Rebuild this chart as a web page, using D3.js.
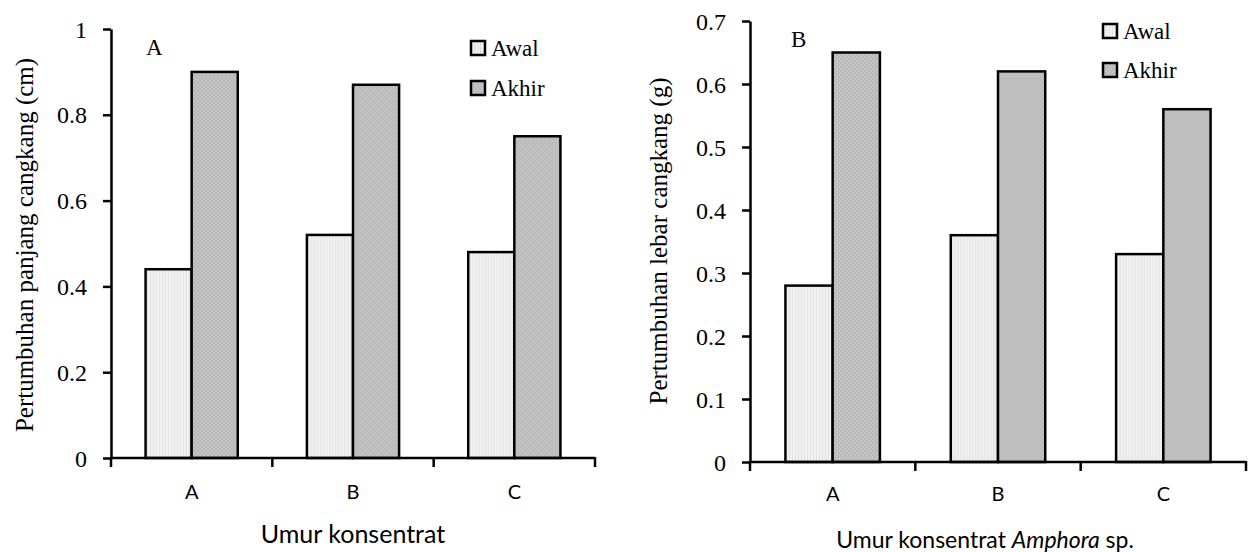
<!DOCTYPE html>
<html>
<head>
<meta charset="utf-8">
<script src="https://cdn.jsdelivr.net/npm/d3@7"></script>
<style>
  body { margin: 0; background: #fff; }
  svg { display: block; }
</style>
</head>
<body>
<div id="chart"></div>
<script>
// data
const categories = ["A", "B", "C"];
const seriesNames = ["Awal", "Akhir"];

const panjangAwal = [0.44, 0.52, 0.48];
const panjangAkhir = [0.90, 0.87, 0.75];
const panjangTicks = [0, 0.2, 0.4, 0.6, 0.8, 1];

const lebarAwal = [0.28, 0.36, 0.33];
const lebarAkhir = [0.65, 0.62, 0.56];
const lebarTicks = [0, 0.1, 0.2, 0.3, 0.4, 0.5, 0.6, 0.7];

const W = 1249, H = 552;
const serif = "'Liberation Serif', serif";
const sans = "Lato, 'Open Sans', sans-serif";

const svg = d3.select("#chart")
  .append("svg")
  .attr("width", W)
  .attr("height", H);

// textures for the two fills
const defs = svg.append("defs");
const pAwal = defs.append("pattern")
  .attr("id", "fillAwal")
  .attr("width", 3).attr("height", 3)
  .attr("patternUnits", "userSpaceOnUse");
pAwal.append("rect").attr("width", 3).attr("height", 3).attr("fill", "#f1f1f1");
pAwal.append("rect").attr("width", 1).attr("height", 3).attr("fill", "#e2e2e2");

const pAkhir = defs.append("pattern")
  .attr("id", "fillAkhir")
  .attr("width", 4).attr("height", 4)
  .attr("patternUnits", "userSpaceOnUse");
pAkhir.append("rect").attr("width", 4).attr("height", 4).attr("fill", "#c4c4c4");
pAkhir.append("rect").attr("width", 2).attr("height", 2).attr("fill", "#b8b8b8");
pAkhir.append("rect").attr("x", 2).attr("y", 2).attr("width", 2).attr("height", 2).attr("fill", "#b8b8b8");

const fills = { Awal: "url(#fillAwal)", Akhir: "url(#fillAkhir)" };

function drawPanel(p) {
  const g = svg.append("g");

  const y = d3.scaleLinear().domain([0, p.max]).range([p.bottom, p.top]);
  const x0 = d3.scaleBand().domain(categories).range([p.left, p.right]).padding(0);
  const x1 = d3.scaleBand().domain(seriesNames)
    .range([0, x0.bandwidth()])
    .paddingInner(0)
    .paddingOuter(0.75);

  const rows = categories.map((c, i) => ({ cat: c, Awal: p.awal[i], Akhir: p.akhir[i] }));

  // bars
  g.selectAll(".grp")
    .data(rows)
    .join("g")
    .attr("transform", (d) => `translate(${x0(d.cat)},0)`)
    .selectAll("rect")
    .data((d) => seriesNames.map((s) => ({ s, v: d[s] })))
    .join("rect")
    .attr("x", (d) => x1(d.s))
    .attr("y", (d) => y(d.v))
    .attr("width", x1.bandwidth())
    .attr("height", (d) => y(0) - y(d.v))
    .attr("fill", (d) => fills[d.s])
    .attr("stroke", "#000")
    .attr("stroke-width", 2.5);

  // y axis
  const yAxis = d3.axisLeft(y)
    .tickValues(p.ticks)
    .tickFormat((d) => (d === 0 ? "0" : d3.format("~g")(d)))
    .tickSize(8)
    .tickSizeOuter(0)
    .tickPadding(16);
  g.append("g")
    .attr("transform", `translate(${p.left},0)`)
    .call(yAxis)
    .call((a) => a.selectAll("path, line").attr("stroke", "#000").attr("stroke-width", 2.5))
    .call((a) => a.selectAll("text")
      .attr("fill", "#000")
      .attr("dy", "0.34em")
      .style("font-family", serif)
      .style("font-size", "24px"));

  // x axis with ticks at category boundaries
  const xAxis = g.append("g").attr("transform", `translate(0,${p.bottom})`);
  xAxis.append("line")
    .attr("x1", p.left).attr("x2", p.right)
    .attr("stroke", "#000").attr("stroke-width", 2.5);
  const edges = categories.map((c) => x0(c)).concat([x0(categories[categories.length - 1]) + x0.bandwidth()]);
  xAxis.selectAll(".xt")
    .data(edges)
    .join("line")
    .attr("x1", (d) => d).attr("x2", (d) => d)
    .attr("y1", -1).attr("y2", 9)
    .attr("stroke", "#000").attr("stroke-width", 2.5);
  xAxis.selectAll(".xl")
    .data(categories)
    .join("text")
    .attr("x", (d) => x0(d) + x0.bandwidth() / 2)
    .attr("y", p.xLabelDy)
    .attr("text-anchor", "middle")
    .style("font-family", sans)
    .style("font-size", "20px")
    .text((d) => d);

  // axis titles
  g.append("text")
    .attr("transform", `translate(${p.yTitleX},${p.yTitleY}) rotate(-90)`)
    .attr("text-anchor", "middle")
    .style("font-family", serif)
    .style("font-size", "25px")
    .text(p.yTitle);

  const xt = g.append("text")
    .attr("x", p.xTitleX)
    .attr("y", p.xTitleY)
    .attr("text-anchor", "middle")
    .style("font-family", sans)
    .style("font-size", p.xTitleSize);
  xt.append("tspan").text(p.xTitle[0]);
  if (p.xTitle.length > 1) {
    xt.append("tspan").style("font-style", "italic").text(p.xTitle[1]);
    xt.append("tspan").text(p.xTitle[2]);
  }

  // panel letter
  g.append("text")
    .attr("x", p.letterX)
    .attr("y", p.letterY)
    .style("font-family", serif)
    .style("font-size", "23px")
    .text(p.letter);

  // legend
  const lg = g.append("g").attr("transform", `translate(${p.legendX},${p.legendY})`);
  const item = lg.selectAll("g")
    .data(seriesNames)
    .join("g")
    .attr("transform", (d, i) => `translate(0,${i * p.legendStep})`);
  item.append("rect")
    .attr("x", 0).attr("y", -7)
    .attr("width", 14).attr("height", 14)
    .attr("fill", (d) => fills[d])
    .attr("stroke", "#000")
    .attr("stroke-width", 2.5);
  item.append("text")
    .attr("x", 20)
    .attr("y", 8)
    .style("font-family", serif)
    .style("font-size", "23px")
    .text((d) => d);
}

drawPanel({
  awal: panjangAwal, akhir: panjangAkhir, ticks: panjangTicks, max: 1,
  left: 111, right: 595, top: 29, bottom: 458, xLabelDy: 41,
  yTitle: "Pertumbuhan panjang cangkang (cm)", yTitleX: 33, yTitleY: 245,
  xTitle: ["Umur konsentrat"], xTitleX: 353, xTitleY: 543, xTitleSize: "25px",
  letter: "A", letterX: 146, letterY: 55,
  legendX: 471, legendY: 48, legendStep: 40
});

drawPanel({
  awal: lebarAwal, akhir: lebarAkhir, ticks: lebarTicks, max: 0.7,
  left: 750, right: 1246, top: 21, bottom: 462, xLabelDy: 39,
  yTitle: "Pertumbuhan lebar cangkang (g)", yTitleX: 667, yTitleY: 241,
  xTitle: ["Umur konsentrat ", "Amphora", " sp."], xTitleX: 985, xTitleY: 548, xTitleSize: "23px",
  letter: "B", letterX: 791, letterY: 47,
  legendX: 1103, legendY: 31, legendStep: 39
});
</script>
</body>
</html>
